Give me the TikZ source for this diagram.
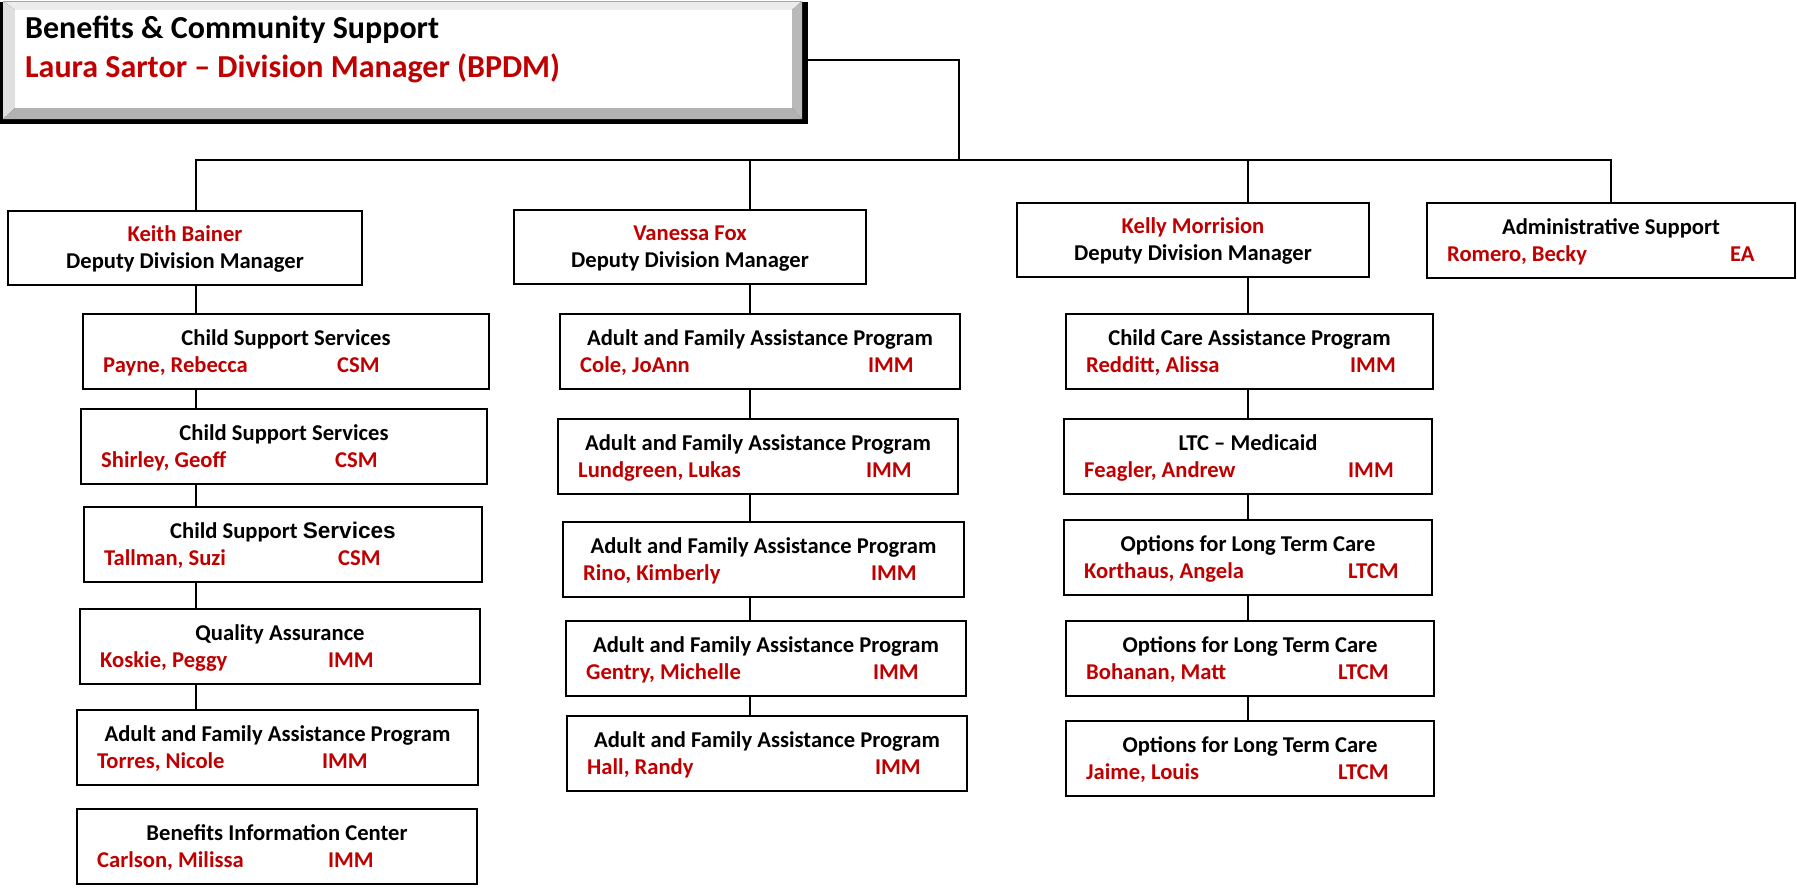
\documentclass[tikz,border=0pt]{standalone}
\usepackage{fontspec}
\setmainfont{Carlito}
\newfontfamily\arialfont{Liberation Sans}
\definecolor{namered}{HTML}{C00000}

\tikzset{
  unitbox/.style={draw=black, line width=1.8pt, minimum height=75pt, inner sep=0pt, outer sep=0pt, anchor=north west},
  titletext/.style={font=\bfseries\fontsize{22.6}{26}\selectfont, inner sep=0pt, anchor=base},
  nametext/.style={titletext, text=namered, anchor=base west},
  headtext/.style={font=\bfseries\fontsize{32}{36}\selectfont, inner sep=0pt, anchor=base west},
  orgline/.style={line width=1.5pt},
}

% one unit: name, left, top, width, title, person, role, role offset
\newcommand{\orgunit}[8]{%
  \node[unitbox, minimum width=#4pt] (#1) at (#2,#3) {};
  \node[titletext] (#1t) at ([yshift=-31pt]#1.north) {#5};
  \node[nametext] (#1n) at ([xshift=20pt,yshift=-58pt]#1.north west) {#6};
  \node[nametext] (#1r) at ([xshift=#8pt,yshift=-58pt]#1.north west) {#7};}

\begin{document}
\begin{tikzpicture}[x=1pt,y=-1pt]
  \useasboundingbox (0,0) rectangle (1797,887);

  % division manager, bevelled box
  \fill[black] (0,2) rectangle (808,124);
  \fill[gray!15] (3,1) -- (802,1) -- (792,10) -- (15,10) -- cycle;
  \fill[gray!25] (3,1) -- (15,10) -- (15,108) -- (3,119) -- cycle;
  \fill[gray!60] (3,119) -- (15,108) -- (792,108) -- (802,119) -- cycle;
  \fill[gray!55] (802,1) -- (792,10) -- (792,108) -- (802,119) -- cycle;
  \fill[white] (15,10) rectangle (792,108);
  \draw[gray!70, line width=0.8pt] (3,1) -- (802,1);
  \node[inner sep=0pt, outer sep=0pt, minimum width=808pt, minimum height=124pt, anchor=north west] (bp) at (0,0) {};
  \node[headtext] (bpt) at (25,38) {Benefits \& Community Support};
  \node[headtext, text=namered] (bpn) at (25,77) {Laura Sartor – Division Manager (BPDM)};

  % deputies
  \node[unitbox, minimum width=354pt, minimum height=74pt] (kb) at (8,211) {};
  \node[nametext, anchor=base] (kbn) at ([yshift=-30pt]kb.north) {Keith Bainer};
  \node[titletext] (kbt) at ([yshift=-57pt]kb.north) {Deputy Division Manager};
  \node[unitbox, minimum width=352pt, minimum height=74pt] (vf) at (514,210) {};
  \node[nametext, anchor=base] (vfn) at ([yshift=-30pt]vf.north) {Vanessa Fox};
  \node[titletext] (vft) at ([yshift=-57pt]vf.north) {Deputy Division Manager};
  \node[unitbox, minimum width=352pt, minimum height=74pt] (km) at (1017,203) {};
  \node[nametext, anchor=base] (kmn) at ([yshift=-30pt]km.north) {Kelly Morrision};
  \node[titletext] (kmt) at ([yshift=-57pt]km.north) {Deputy Division Manager};
  \orgunit{adm}{1427}{203}{368}{Administrative Support}{Romero, Becky}{EA}{303}

  % Keith Bainer column
  \orgunit{kb1}{83}{314}{406}{Child Support Services}{Payne, Rebecca}{CSM}{254}
  \orgunit{kb2}{81}{409}{406}{Child Support Services}{Shirley, Geoff}{CSM}{254}
  \orgunit{kb3}{84}{507}{398}{Child Support {\arialfont Services}}{Tallman, Suzi}{CSM}{254}
  \orgunit{kb4}{80}{609}{400}{Quality Assurance}{Koskie, Peggy}{IMM}{248}
  \orgunit{kb5}{77}{710}{401}{Adult and Family Assistance Program}{Torres, Nicole}{IMM}{245}
  \orgunit{kb6}{77}{809}{400}{Benefits Information Center}{Carlson, Milissa}{IMM}{251}

  % Vanessa Fox column
  \orgunit{vf1}{560}{314}{400}{Adult and Family Assistance Program}{Cole, JoAnn}{IMM}{308}
  \orgunit{vf2}{558}{419}{400}{Adult and Family Assistance Program}{Lundgreen, Lukas}{IMM}{308}
  \orgunit{vf3}{563}{522}{401}{Adult and Family Assistance Program}{Rino, Kimberly}{IMM}{308}
  \orgunit{vf4}{566}{621}{400}{Adult and Family Assistance Program}{Gentry, Michelle}{IMM}{307}
  \orgunit{vf5}{567}{716}{400}{Adult and Family Assistance Program}{Hall, Randy}{IMM}{308}

  % Kelly Morrision column
  \orgunit{km1}{1066}{314}{367}{Child Care Assistance Program}{Redditt, Alissa}{IMM}{284}
  \orgunit{km2}{1064}{419}{368}{LTC – Medicaid}{Feagler, Andrew}{IMM}{284}
  \orgunit{km3}{1064}{520}{368}{Options for Long Term Care}{Korthaus, Angela}{LTCM}{284}
  \orgunit{km4}{1066}{621}{368}{Options for Long Term Care}{Bohanan, Matt}{LTCM}{272}
  \orgunit{km5}{1066}{721}{368}{Options for Long Term Care}{Jaime, Louis}{LTCM}{272}

  % connectors
  \coordinate (bus) at (0,160);
  \coordinate (jt) at (959,160);
  \coordinate (kx) at (196,0);
  \coordinate (vx) at (750,0);
  \coordinate (rx) at (1248,0);
  \draw[orgline] ([yshift=2pt]bp.east) -| (jt);
  \draw[orgline] (kb.north -| kx) -- (bus -| kx) -- (bus -| adm.north) -- (adm.north);
  \draw[orgline] (vf.north -| vx) -- (bus -| vx);
  \draw[orgline] (km.north -| rx) -- (bus -| rx);
  \draw[orgline] (kb.south -| kx) -- (kb1.north -| kx) (kb1.south -| kx) -- (kb2.north -| kx)
    (kb2.south -| kx) -- (kb3.north -| kx) (kb3.south -| kx) -- (kb4.north -| kx)
    (kb4.south -| kx) -- (kb5.north -| kx);
  \draw[orgline] (vf.south -| vx) -- (vf1.north -| vx) (vf1.south -| vx) -- (vf2.north -| vx)
    (vf2.south -| vx) -- (vf3.north -| vx) (vf3.south -| vx) -- (vf4.north -| vx)
    (vf4.south -| vx) -- (vf5.north -| vx);
  \draw[orgline] (km.south -| rx) -- (km1.north -| rx) (km1.south -| rx) -- (km2.north -| rx)
    (km2.south -| rx) -- (km3.north -| rx) (km3.south -| rx) -- (km4.north -| rx)
    (km4.south -| rx) -- (km5.north -| rx);
\end{tikzpicture}
\end{document}
